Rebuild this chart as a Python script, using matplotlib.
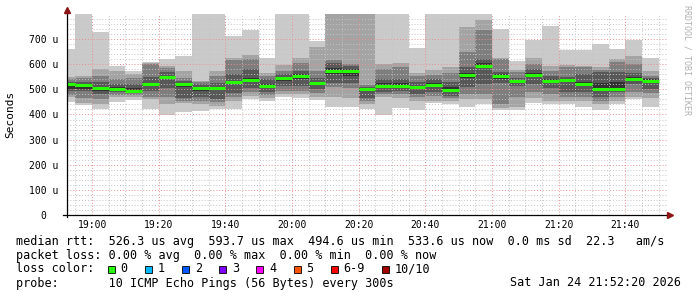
import numpy as np
import matplotlib.pyplot as plt
from matplotlib.patches import Rectangle
from matplotlib.transforms import offset_copy

W, H = 697, 297
mono = 'DejaVu Sans Mono'

# 5 minute bins, start time in minutes after 19:00
bin_start = np.arange(-10, 170, 5)

# 10 sorted ping times per bin (microseconds)
pings = np.array([
    [448, 468, 478, 495, 500, 525, 530, 540, 548, 660],
    [436, 445, 465, 492, 500, 522, 528, 545, 553, 830],
    [422, 440, 460, 480, 495, 510, 529, 552, 581, 728],
    [450, 470, 478, 490, 498, 508, 520, 540, 575, 595],
    [458, 470, 478, 485, 490, 505, 520, 545, 563, 572],
    [421, 460, 470, 495, 515, 525, 550, 600, 603, 608],
    [400, 440, 470, 505, 540, 555, 570, 585, 592, 622],
    [410, 445, 455, 465, 510, 525, 535, 545, 575, 632],
    [415, 440, 455, 470, 495, 510, 520, 528, 535, 830],
    [420, 435, 450, 462, 500, 508, 525, 555, 573, 830],
    [423, 455, 470, 485, 520, 535, 560, 615, 625, 711],
    [460, 475, 490, 505, 530, 545, 582, 620, 637, 737],
    [452, 465, 478, 490, 505, 522, 540, 552, 564, 624],
    [470, 480, 495, 515, 535, 550, 560, 572, 597, 830],
    [465, 480, 495, 515, 540, 560, 575, 603, 623, 830],
    [459, 468, 485, 500, 518, 530, 545, 572, 670, 693],
    [428, 470, 510, 525, 560, 585, 603, 617, 830, 850],
    [430, 465, 505, 525, 555, 580, 595, 600, 830, 850],
    [420, 440, 455, 465, 495, 505, 510, 517, 830, 850],
    [400, 470, 480, 490, 510, 525, 540, 583, 600, 830],
    [425, 465, 480, 495, 510, 525, 540, 590, 603, 830],
    [418, 455, 470, 480, 500, 515, 530, 552, 566, 663],
    [445, 455, 475, 490, 510, 525, 540, 558, 577, 830],
    [442, 455, 465, 475, 495, 510, 530, 565, 588, 830],
    [428, 460, 480, 510, 545, 565, 590, 650, 750, 830],
    [443, 460, 480, 520, 585, 605, 622, 737, 778, 830],
    [418, 425, 440, 525, 540, 560, 570, 620, 625, 740],
    [419, 430, 470, 515, 525, 538, 545, 570, 578, 614],
    [445, 465, 490, 520, 550, 565, 580, 600, 624, 697],
    [441, 455, 480, 505, 525, 540, 555, 575, 592, 751],
    [440, 455, 470, 490, 530, 540, 550, 588, 597, 657],
    [431, 455, 470, 490, 515, 530, 560, 588, 592, 657],
    [417, 440, 455, 470, 495, 525, 570, 578, 590, 682],
    [440, 455, 470, 490, 495, 530, 570, 610, 619, 661],
    [460, 470, 490, 520, 535, 548, 565, 600, 632, 696],
    [428, 465, 485, 500, 525, 540, 545, 555, 572, 625],
])
median = np.array([521, 518, 505, 503, 495, 520, 550, 521, 505, 504,
                   528, 537, 515, 545, 553, 525, 574, 572, 503, 515,
                   514, 508, 518, 498, 558, 594, 553, 533, 558, 535,
                   538, 523, 500, 502, 541, 534])

x_ticks = [0, 20, 40, 60, 80, 100, 120, 140, 160]
x_labels = ['19:00', '19:20', '19:40', '20:00', '20:20',
            '20:40', '21:00', '21:20', '21:40']
y_ticks = [0, 100, 200, 300, 400, 500, 600, 700]
y_labels = ['0  ', '100 u', '200 u', '300 u', '400 u', '500 u', '600 u', '700 u']

loss_labels = ['0', '1', '2', '3', '4', '5', '6-9', '10/10']
loss_colors = ['#26ff00', '#00b8ff', '#0059ff', '#7e00ff',
               '#ff00ff', '#ff5500', '#ff0000', '#a00000']

line1 = 'median rtt:  526.3 us avg  593.7 us max  494.6 us min  533.6 us now  0.0 ms sd  22.3   am/s'
line2 = 'packet loss: 0.00 % avg  0.00 % max  0.00 % min  0.00 % now'
line4 = 'probe:       10 ICMP Echo Pings (56 Bytes) every 300s'
stamp = 'Sat Jan 24 21:52:20 2026'

GRID = '#c4c4c4'
MGRID = '#e89090'
ARROW = '#8c1414'

fig = plt.figure(figsize=(W / 100, H / 100), dpi=100)
left, right, top, bottom = 66.5, 666.5, 14, 215
ax = fig.add_axes([left / W, 1 - bottom / H, (right - left) / W, (bottom - top) / H])
ax.set_xlim(-7.67, 172.33)
ax.set_ylim(0, 800)

# smoke bands, lightest outside
edges = np.append(bin_start, bin_start[-1] + 5)
for i in range(5):
    shade = int(190 / 5 * (4 - i)) + 50
    col = '#%02x%02x%02x' % (shade, shade, shade)
    lo = np.append(pings[:, i], pings[-1, i])
    hi = np.append(pings[:, 9 - i], pings[-1, 9 - i])
    ax.fill_between(edges, lo, hi, step='post', color=col, lw=0,
                    antialiased=False, zorder=1)

# grid on top of the smoke
for v in range(20, 800, 20):
    ax.axhline(v, color=MGRID if v % 100 == 0 else GRID, lw=0.7,
               ls=(0, (1, 2)), zorder=3)
for t in range(-5, 171, 5):
    ax.axvline(t, color=MGRID if t % 20 == 0 else GRID, lw=0.7,
               ls=(0, (1, 2)), zorder=3)

ax.hlines(median, bin_start, bin_start + 5, colors=loss_colors[0], lw=2.2, zorder=4)

for s in ax.spines.values():
    s.set_visible(False)
ax.set_xticks(x_ticks)
ax.set_xticklabels(x_labels, fontfamily=mono, fontsize=7)
ax.set_yticks(y_ticks)
ax.set_yticklabels(y_labels, fontfamily=mono, fontsize=7)
ax.tick_params(axis='x', length=0, pad=3.5)
ax.tick_params(axis='y', length=0, pad=5.5)
ax.set_ylabel('Seconds', fontfamily=mono, fontsize=8, labelpad=10)

# axis lines and arrows
ax.plot([-0.006, 1.006], [0, 0], color='black', lw=0.9, transform=ax.transAxes,
        clip_on=False, zorder=5)
ax.plot([0, 0], [-0.012, 1.015], color='black', lw=0.9, transform=ax.transAxes,
        clip_on=False, zorder=5)
ax.plot([1], [0], marker='>', ms=4, color=ARROW, clip_on=False, zorder=6,
        transform=offset_copy(ax.transAxes, fig=fig, x=3, y=0, units='dots'))
ax.plot([0], [1], marker='^', ms=4, color=ARROW, clip_on=False, zorder=6,
        transform=offset_copy(ax.transAxes, fig=fig, x=0, y=4, units='dots'))

fig.text(687 / W, 1 - 60 / H, 'RRDTOOL / TOBI OETIKER', rotation=270,
         fontfamily=mono, fontsize=6, color='#b0b0b0', ha='center', va='center')


def px(x, y):
    return x / W, 1 - y / H


fs = 8.5
fig.text(*px(16, 241), line1, fontfamily=mono, fontsize=fs, va='center')
fig.text(*px(16, 255), line2, fontfamily=mono, fontsize=fs, va='center')
fig.text(*px(16, 269), 'loss color:', fontfamily=mono, fontsize=fs, va='center')
fig.text(*px(16, 283), line4, fontfamily=mono, fontsize=fs, va='center')
fig.text(*px(681, 283), stamp, fontfamily=mono, fontsize=fs, va='center', ha='right')

bx = 108
for lab, col in zip(loss_labels, loss_colors):
    x0, y0 = px(bx, 272.5)
    fig.patches.append(Rectangle((x0, y0), 7 / W, 7 / H, transform=fig.transFigure,
                                 facecolor=col, edgecolor='black', lw=0.6))
    fig.text(*px(bx + 12.5, 269), lab, fontfamily=mono, fontsize=fs, va='center')
    bx += 12.5 + 7.1 * len(lab) + 17.5

fig.savefig('out.png', dpi=100, facecolor='white')
